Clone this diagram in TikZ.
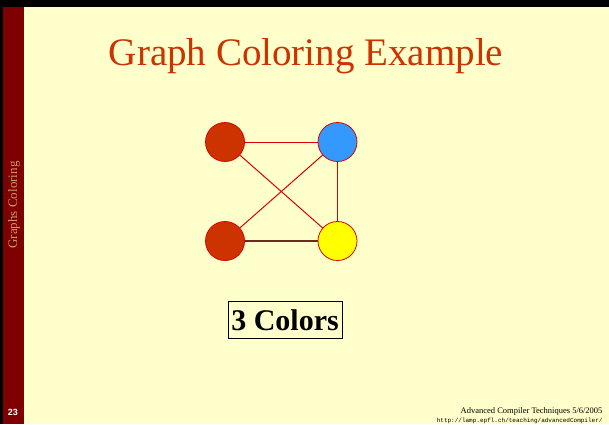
\documentclass[tikz,border=0pt]{standalone}
\usepackage{fontspec}
\usepackage{xcolor}
\usetikzlibrary{positioning}
\newfontfamily\arialfont{Liberation Sans}
\newfontfamily\timesfont{Liberation Serif}
\newfontfamily\courfont{Liberation Mono}
\definecolor{slidebg}{HTML}{FFFFCC}
\definecolor{sidebar}{HTML}{7F0000}
\definecolor{titlered}{HTML}{CC3300}
\definecolor{sidetext}{HTML}{CC9966}
\definecolor{edgered}{HTML}{DD0000}
\definecolor{edgebrown}{HTML}{6B2A1A}
\definecolor{vblue}{HTML}{3399FF}
\definecolor{vyellow}{HTML}{FFFF00}
\tikzset{
    vtx/.style={circle,draw=edgered,thick,minimum size=39pt,inner sep=0pt},
    edge/.style={draw=edgered,line width=1pt},
    heavyedge/.style={draw=edgebrown,line width=1.6pt},
    countbox/.style={draw,thin,fill=slidebg,inner xsep=3pt,inner ysep=8pt,font=\timesfont\bfseries\fontsize{30}{32}\selectfont}
}
\begin{document}
\begin{tikzpicture}[x=1pt,y=-1pt]
  \useasboundingbox (0,0) rectangle (609,424);
  % slide frame
  \fill[slidebg] (0,0) rectangle (609,424);
  \fill[black] (0,0) rectangle (609,7);
  \fill[black] (0,0) rectangle (3,424);
  \fill[sidebar] (3,7) rectangle (24,424);
  \node[rotate=90,text=sidetext,font=\timesfont\fontsize{13}{15}\selectfont] (side) at (14,205) {Graphs Coloring};
  \node[text=white,font=\arialfont\bfseries\fontsize{9}{10}\selectfont] (pgno) at (13,412) {23};
  % title
  \node[anchor=base,text=titlered,font=\timesfont\fontsize{39}{42}\selectfont] (title) at (306,65) {Graph Coloring Example};
  % 4-node graph, 3 colours
  \node[vtx,fill=titlered] (tl) at (225,142) {};
  \node[vtx,fill=vblue]    (tr) at (337.5,142) {};
  \node[vtx,fill=titlered] (bl) at (225,241) {};
  \node[vtx,fill=vyellow]  (br) at (337.5,241) {};
  \draw[edge] (tl) -- (tr);
  \draw[edge] (tl) -- (br);
  \draw[edge] (tr) -- (bl);
  \draw[edge] (tr) -- (br);
  \draw[heavyedge] (bl) -- (br);
  \node[countbox] (count) at (285,320) {3 Colors};
  % footer
  \node[anchor=base east,font=\timesfont\fontsize{8.5}{9}\selectfont] (foot) at (606,413) {Advanced Compiler Techniques 5/6/2005};
  \node[anchor=base east,font=\courfont\fontsize{6}{7}\selectfont] (url) at (606,422.5) {http://lamp.epfl.ch/teaching/advancedCompiler/};
\end{tikzpicture}
\end{document}
